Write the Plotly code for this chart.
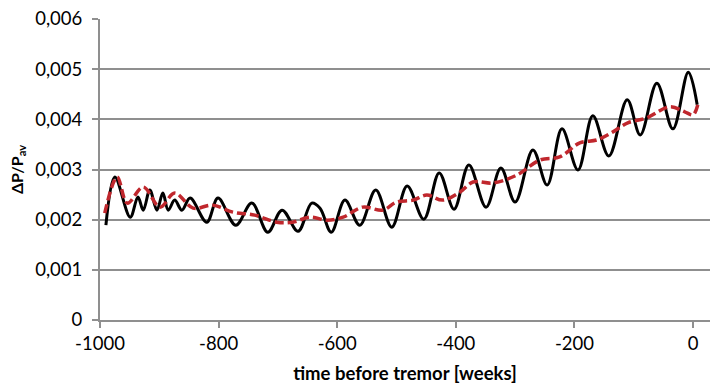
import plotly.graph_objects as go

# Black curve (measured) – weeks before tremor, dP/Pav
black_x = [-990, -975, -949, -936, -927, -916, -904, -894, -885, -874, -862, -848,
           -820, -801, -771, -744, -717, -693, -666, -643, -629, -610, -587, -562,
           -535, -508, -482, -454, -428, -403, -378, -349, -324, -300, -270, -246,
           -221, -194, -169, -142, -111, -89, -61, -34, -8, 7]
black_y = [0.00189, 0.00285, 0.00205, 0.00245, 0.00219, 0.00259, 0.00219, 0.00253,
           0.00219, 0.00239, 0.00219, 0.00243, 0.00195, 0.00243, 0.00189, 0.00233,
           0.00175, 0.00219, 0.00177, 0.00233, 0.00223, 0.00175, 0.00239, 0.00189,
           0.00259, 0.00185, 0.00267, 0.00201, 0.00293, 0.00221, 0.00309, 0.00225,
           0.00303, 0.00235, 0.00339, 0.00269, 0.00381, 0.00299, 0.00407, 0.00327,
           0.00439, 0.00369, 0.00472, 0.00381, 0.00494, 0.00429]

# Red dashed curve (model)
red_x = [-992, -971, -954, -927, -899, -874, -843, -810, -776, -739, -702, -675,
         -646, -617, -590, -557, -523, -500, -472, -449, -422, -393, -371, -337,
         -297, -258, -225, -191, -162, -135, -110, -78, -39, -14, 0, 8]
red_y = [0.00213, 0.00285, 0.00233, 0.00265, 0.00225, 0.00253, 0.00223, 0.00229,
         0.00215, 0.00209, 0.00195, 0.00195, 0.00205, 0.00199, 0.00205, 0.00225,
         0.00219, 0.00235, 0.00239, 0.00249, 0.00239, 0.00255, 0.00275, 0.00273,
         0.00289, 0.00319, 0.00325, 0.00353, 0.00359, 0.00375, 0.00393, 0.00403,
         0.00425, 0.00415, 0.00409, 0.00429]

y_tickvals = [0, 0.001, 0.002, 0.003, 0.004, 0.005, 0.006]
y_ticktext = ["0", "0,001", "0,002", "0,003", "0,004", "0,005", "0,006"]
x_tickvals = [-1000, -800, -600, -400, -200, 0]
x_ticktext = ["-1000", "-800", "-600", "-400", "-200", "0"]

FONT = "Lato, 'Open Sans', sans-serif"
GRID = "#8f8f8f"
FS = 18.5

fig = go.Figure()
fig.add_trace(go.Scatter(x=black_x, y=black_y, mode="lines",
                         line=dict(color="#000000", width=3, shape="spline", smoothing=1.0),
                         showlegend=False, hoverinfo="skip"))
fig.add_trace(go.Scatter(x=red_x, y=red_y, mode="lines",
                         line=dict(color="#c0272d", width=3.5, dash="9px,4px",
                                   shape="spline", smoothing=1.0),
                         showlegend=False, hoverinfo="skip"))

fig.update_layout(
    width=713, height=388,
    margin=dict(l=100, r=3, t=19, b=68),
    paper_bgcolor="white", plot_bgcolor="white",
    font=dict(family=FONT, size=FS, color="#000000"),
    xaxis=dict(range=[-1000, 28.6], tickvals=x_tickvals, ticktext=x_ticktext,
               showgrid=False, zeroline=False, showline=True, linecolor=GRID, linewidth=2,
               ticks="outside", ticklen=6, tickwidth=2, tickcolor=GRID,
               tickfont=dict(family=FONT, size=FS, color="#000"),
               title=dict(text="<b>time before tremor [weeks]</b>", standoff=14,
                          font=dict(family=FONT, size=FS, color="#000"))),
    yaxis=dict(range=[0, 0.006], tickvals=y_tickvals, ticktext=y_ticktext,
               showgrid=True, gridcolor=GRID, gridwidth=2, zeroline=False,
               showline=True, linecolor=GRID, linewidth=2,
               ticks="outside", ticklen=6, tickwidth=2, tickcolor=GRID,
               ticklabelstandoff=6,
               tickfont=dict(family=FONT, size=FS, color="#000"),
               title=dict(text="<b>ΔP/P<sub>av</sub></b>", standoff=8,
                          font=dict(family=FONT, size=16, color="#000"))),
)

fig.write_html("out.html")
